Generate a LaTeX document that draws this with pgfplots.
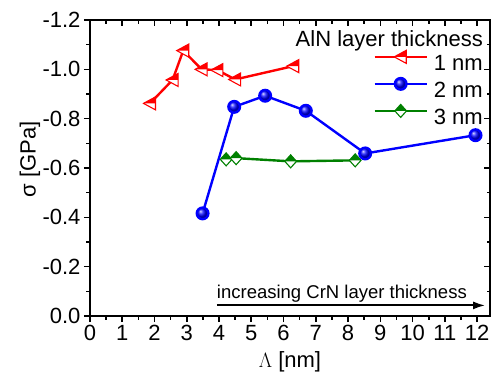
\documentclass[border=0pt]{standalone}
\usepackage{fontspec}
\setmainfont{Liberation Sans}
\setsansfont{Liberation Sans}
\usepackage{pgfplots}
\pgfplotsset{compat=1.18}
\usetikzlibrary{arrows.meta}

\definecolor{ored}{RGB}{255,0,0}
\definecolor{oblue}{RGB}{0,0,255}
\definecolor{ogreen}{RGB}{0,128,0}

% left-pointing triangle, upper half filled
\pgfdeclareplotmark{halftriL}{%
  \begin{pgfscope}%
    \pgfsetfillcolor{white}%
    \pgfpathmoveto{\pgfqpoint{-\pgfplotmarksize}{0pt}}%
    \pgfpathlineto{\pgfqpoint{0.85\pgfplotmarksize}{\pgfplotmarksize}}%
    \pgfpathlineto{\pgfqpoint{0.85\pgfplotmarksize}{-\pgfplotmarksize}}%
    \pgfpathclose
    \pgfusepath{fill}%
  \end{pgfscope}%
  \pgfpathmoveto{\pgfqpoint{-\pgfplotmarksize}{0pt}}%
  \pgfpathlineto{\pgfqpoint{0.85\pgfplotmarksize}{\pgfplotmarksize}}%
  \pgfpathlineto{\pgfqpoint{0.85\pgfplotmarksize}{0pt}}%
  \pgfpathclose
  \pgfusepath{fill}%
  \pgfpathmoveto{\pgfqpoint{-\pgfplotmarksize}{0pt}}%
  \pgfpathlineto{\pgfqpoint{0.85\pgfplotmarksize}{\pgfplotmarksize}}%
  \pgfpathlineto{\pgfqpoint{0.85\pgfplotmarksize}{-\pgfplotmarksize}}%
  \pgfpathclose
  \pgfusepath{stroke}%
}

% diamond, upper half filled
\pgfdeclareplotmark{halfdiamond}{%
  \begin{pgfscope}%
    \pgfsetfillcolor{white}%
    \pgfpathmoveto{\pgfqpoint{0pt}{\pgfplotmarksize}}%
    \pgfpathlineto{\pgfqpoint{0.9\pgfplotmarksize}{0pt}}%
    \pgfpathlineto{\pgfqpoint{0pt}{-\pgfplotmarksize}}%
    \pgfpathlineto{\pgfqpoint{-0.9\pgfplotmarksize}{0pt}}%
    \pgfpathclose
    \pgfusepath{fill}%
  \end{pgfscope}%
  \pgfpathmoveto{\pgfqpoint{0pt}{\pgfplotmarksize}}%
  \pgfpathlineto{\pgfqpoint{0.9\pgfplotmarksize}{0pt}}%
  \pgfpathlineto{\pgfqpoint{-0.9\pgfplotmarksize}{0pt}}%
  \pgfpathclose
  \pgfusepath{fill}%
  \pgfpathmoveto{\pgfqpoint{0pt}{\pgfplotmarksize}}%
  \pgfpathlineto{\pgfqpoint{0.9\pgfplotmarksize}{0pt}}%
  \pgfpathlineto{\pgfqpoint{0pt}{-\pgfplotmarksize}}%
  \pgfpathlineto{\pgfqpoint{-0.9\pgfplotmarksize}{0pt}}%
  \pgfpathclose
  \pgfusepath{stroke}%
}

\pgfplotsset{
  frame/.style={
    scale only axis, width=400pt, height=296pt,
    xmin=0, xmax=12.4, ymin=-1.2, ymax=0, y dir=reverse,
    xtick={0,1,...,12}, ytick={-1.2,-1,-0.8,-0.6,-0.4,-0.2,0},
    minor x tick num=1, minor y tick num=1,
    major tick length=6pt, minor tick length=3.5pt,
    axis line style={line width=2pt},
    every tick/.style={black, line width=1.6pt},
  },
}

\begin{document}
\begin{tikzpicture}[font=\fontsize{22}{26}\selectfont]
% ticks on top and right, pointing inwards
\begin{axis}[frame, tick align=inside, xtick pos=right, ytick pos=right,
  xticklabels={}, yticklabels={}]
\end{axis}
\begin{axis}[frame, tick align=outside, xtick pos=left, ytick pos=left,
  /pgf/number format/assume math mode=true,
  yticklabel style={/pgf/number format/.cd, fixed, fixed zerofill, precision=1},
  xlabel={$\Lambda$ [nm]}, ylabel={σ [GPa]},
  xlabel style={at={(axis description cs:0.5,-0.155)}, anchor=center},
  ylabel style={at={(axis description cs:-0.15,0.53)}, anchor=center},
  legend style={at={(rel axis cs:0.9825,0.90)}, anchor=north east,
    draw=none, fill=none, inner sep=0pt, column sep=6pt,
    nodes={inner xsep=0pt, inner ysep=2pt, text height=16pt, text depth=4pt}},
  legend cell align=left,
  legend image code/.code={%
    \path (0pt,-2pt);
    \draw[mark repeat=2, mark phase=2] plot coordinates {(0pt,8pt) (26pt,8pt) (52pt,8pt)};},
]
\addplot[ored, line width=2.4pt, mark=halftriL, mark size=6.5pt,
  mark options={solid, draw=ored, fill=ored, line width=1.1pt}]
  coordinates {(1.86,-0.862) (2.56,-0.957) (2.89,-1.076) (3.46,-1.0)
               (3.95,-0.997) (4.5,-0.959) (6.3,-1.013)};
\addlegendentry{1 nm}
\addplot[oblue, line width=2.4pt, mark=ball, mark size=5.8pt,
  mark options={ball color=oblue}]
  coordinates {(3.49,-0.416) (4.47,-0.848) (5.43,-0.893) (6.69,-0.832)
               (8.53,-0.659) (11.95,-0.733)};
\addlegendentry{2 nm}
\addplot[ogreen, line width=2.4pt, mark=halfdiamond, mark size=6.5pt,
  mark options={solid, draw=ogreen, fill=ogreen, line width=1.1pt}]
  coordinates {(4.22,-0.635) (4.53,-0.64) (6.22,-0.627) (8.22,-0.631)};
\addlegendentry{3 nm}

\node[anchor=base east, inner sep=0pt] at (rel axis cs:0.9825,0.912) {AlN layer thickness};
\draw[line width=2pt, -{Latex[length=12pt,width=8pt]}] (axis cs:3.93,-0.043) -- (axis cs:12.25,-0.043);
\node[anchor=base west, inner sep=0pt, font=\fontsize{18.5}{22}\selectfont]
  at (axis cs:3.93,-0.072) {increasing CrN layer thickness};
\end{axis}
\pgfresetboundingbox
\path ([shift={(-90pt,-57pt)}]current axis.south west) rectangle ([shift={(1pt,20pt)}]current axis.north east);
\end{tikzpicture}
\end{document}
